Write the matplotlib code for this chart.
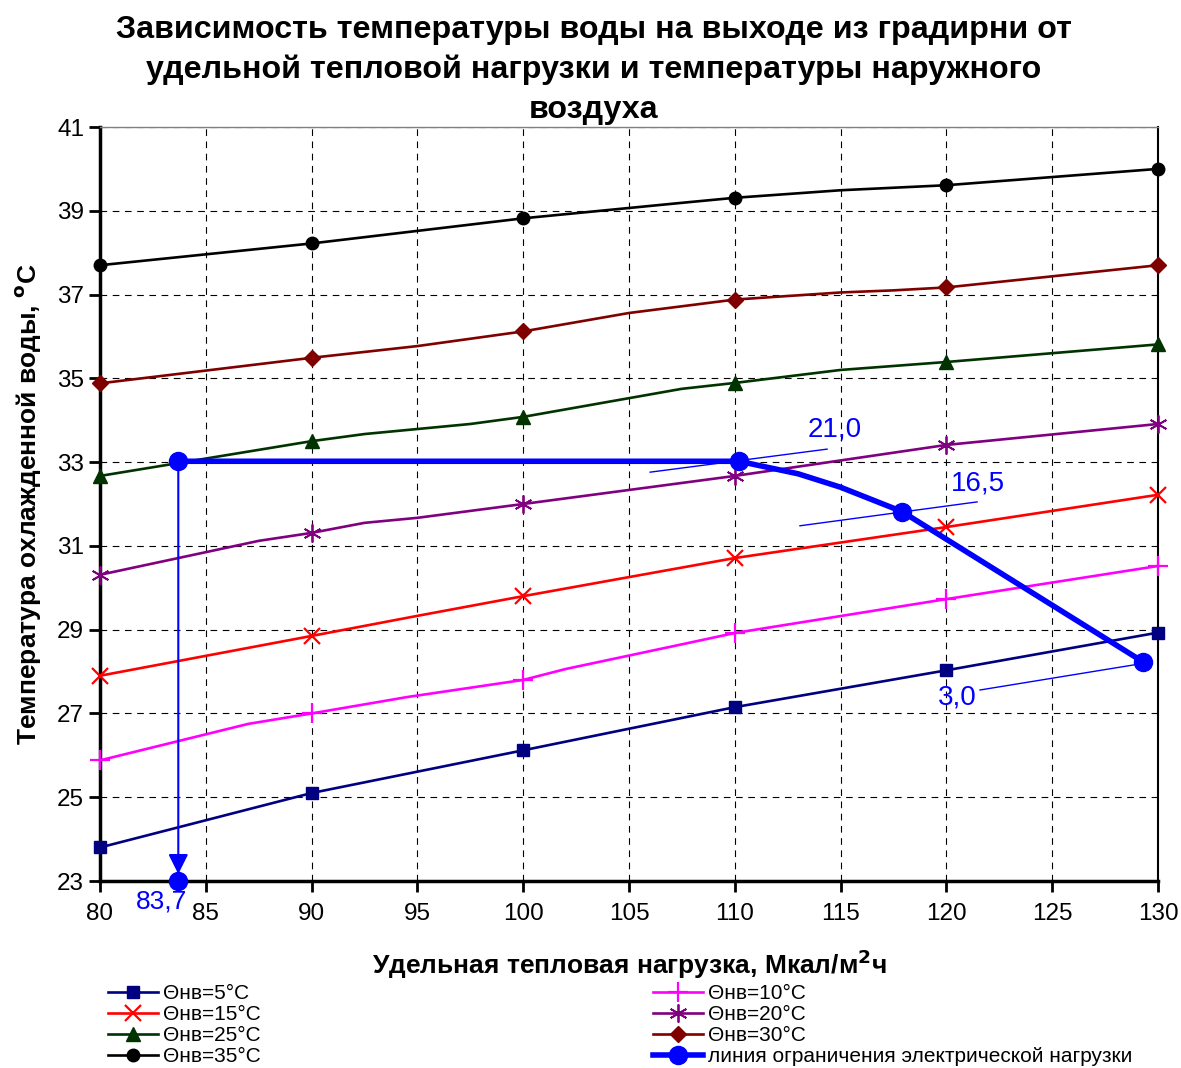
import matplotlib
matplotlib.use("Agg")
import matplotlib.pyplot as plt

plt.rcParams['font.family'] = ['Liberation Sans', 'DejaVu Sans']

# ---- data ----
x5 = [80, 90, 100, 110, 120, 130]
y5 = [23.8, 25.1, 26.12, 27.15, 28.03, 28.93]
m5 = [80, 90, 100, 110, 120, 130]

x10 = [80, 87, 90, 94.5, 100, 102, 107.5, 110, 120, 130]
y10 = [25.88, 26.75, 27.0, 27.39, 27.8, 28.06, 28.65, 28.92, 29.73, 30.52]

x15 = [80, 90, 95, 100, 110, 120, 130]
y15 = [27.9, 28.85, 29.33, 29.8, 30.71, 31.45, 32.22]

x20 = [80, 87.5, 90, 92.5, 95, 100, 110, 120, 130]
y20 = [30.31, 31.12, 31.31, 31.55, 31.67, 32.0, 32.67, 33.41, 33.91]

x25 = [80, 90, 92.5, 97.5, 100, 107.5, 110, 115, 120, 130]
y25 = [32.67, 33.5, 33.67, 33.91, 34.08, 34.75, 34.89, 35.2, 35.39, 35.81]

x30 = [80, 90, 95, 100, 105, 110, 115, 117.5, 120, 130]
y30 = [34.88, 35.49, 35.77, 36.12, 36.56, 36.88, 37.05, 37.1, 37.17, 37.7]

x35 = [80, 90, 100, 107.5, 110, 115, 120, 130]
y35 = [37.7, 38.22, 38.82, 39.19, 39.31, 39.49, 39.61, 40.0]

xlim_line = [83.7, 110.2, 113, 115, 116.5, 117.9, 129.3]
ylim_line = [33.02, 33.02, 32.72, 32.4, 32.1, 31.82, 28.23]
lim_marked = [83.7, 110.2, 117.9, 129.3]

labels = ["Θнв=5°C", "Θнв=10°C", "Θнв=15°C", "Θнв=20°C",
          "Θнв=25°C", "Θнв=30°C", "Θнв=35°C",
          "линия ограничения электрической нагрузки"]

title_lines = ["Зависимость температуры воды на выходе из градирни от",
               "удельной тепловой нагрузки и температуры наружного",
               "воздуха"]

ann_text = ["21,0", "16,5", "3,0"]
ann_pos = [(114.7, 33.77), (121.5, 32.5), (120.5, 27.39)]
ann_lead = [((106.0, 32.76), (114.36, 33.31)),
            ((113.08, 31.48), (121.45, 32.05)),
            ((121.59, 27.56), (129.72, 28.23))]
drop_x = 83.7
drop_label = "83,7"

xticks = list(range(80, 131, 5))
yticks = list(range(23, 42, 2))

# ---- figure ----
W, H = 1181, 1068
fig = plt.figure(figsize=(W/100, H/100), dpi=100)
ax = fig.add_axes([100/W, 1-881/H, 1058/W, 754/H])
ax.set_xlim(80, 130)
ax.set_ylim(23, 41)

def markidx(xs, marked):
    return [i for i, v in enumerate(xs) if v in marked]

lw = 1.9
series = [
    (x5, y5, '#000080', 's', 9, dict()),
    (x10, y10, '#FF00FF', '+', 14, dict(markeredgewidth=1.6)),
    (x15, y15, '#FF0000', 'x', 11, dict(markeredgewidth=1.6)),
    (x20, y20, '#800080', (6, 2, 0), 13, dict(markeredgewidth=1.3)),
    (x25, y25, '#003300', '^', 10, dict()),
    (x30, y30, '#800000', 'D', 8, dict()),
    (x35, y35, '#000000', 'o', 9, dict()),
]
handles = []
for (xs, ys, c, mk, ms, kw), lab in zip(series, labels[:7]):
    h, = ax.plot(xs, ys, color=c, lw=lw, marker=mk, ms=ms,
                 markevery=markidx(xs, m5), label=lab, zorder=3, clip_on=False, **kw)
    handles.append(h)

hb, = ax.plot(xlim_line, ylim_line, color='#0000FF', lw=4, marker='o', ms=13,
              markevery=markidx(xlim_line, lim_marked), label=labels[7], zorder=4,
              clip_on=False)
handles.append(hb)

# drop line with arrow
ax.annotate('', xy=(drop_x, 23.0), xytext=(drop_x, ylim_line[0]),
            arrowprops=dict(arrowstyle='-|>', color='#0000FF', lw=1.5,
                            mutation_scale=30, shrinkA=0, shrinkB=5), zorder=4)
ax.plot([drop_x], [23.0], 'o', color='#0000FF', ms=13, clip_on=False, zorder=5)
ax.text(drop_x - 0.8, 22.5, drop_label, color='#0000FF', fontsize=19,
        ha='center', va='center', clip_on=False)

for t, p, (a, b) in zip(ann_text, ann_pos, ann_lead):
    ax.plot([a[0], b[0]], [a[1], b[1]], color='#0000FF', lw=1.0, zorder=4)
    ax.text(p[0], p[1], t, color='#0000FF', fontsize=20, ha='center', va='center',
            zorder=5)

ax.set_xticks(xticks)
ax.set_yticks(yticks)
ax.tick_params(axis='both', direction='out', length=8, width=2, labelsize=17.5,
               colors='black')
ax.tick_params(axis='x', pad=8)
ax.grid(True, color='black', linestyle=(0, (6, 5)), lw=0.8)
ax.set_axisbelow(True)
ax.spines['left'].set_linewidth(2.5)
ax.spines['bottom'].set_linewidth(2.5)
ax.spines['right'].set_linewidth(1.5)
ax.spines['top'].set_linewidth(1.0)
ax.spines['top'].set_color('#808080')

ax.set_xlabel("Удельная тепловая нагрузка, Мкал/м$^{\\mathbf{2}}$ч", fontsize=19,
              fontweight='bold', labelpad=16)
ax.set_ylabel("Температура охлажденной воды, $^{\\mathbf{o}}$C", fontsize=19,
              fontweight='bold', labelpad=10)

for i, line in enumerate(title_lines):
    fig.text(594/W, 1-(30 + 40*i)/H, line, fontsize=23.2, fontweight='bold',
             ha='center', va='center')

leg_kw = dict(loc='upper left', frameon=False, fontsize=15, handlelength=2.4,
              handletextpad=0.25, labelspacing=0.1, borderaxespad=0, borderpad=0)
left_idx = [0, 2, 4, 6]
right_idx = [1, 3, 5, 7]
leg1 = fig.legend([handles[i] for i in left_idx], [labels[i] for i in left_idx],
                  bbox_to_anchor=(108/W, 1-984/H), **leg_kw)
leg2 = fig.legend([handles[i] for i in right_idx], [labels[i] for i in right_idx],
                  bbox_to_anchor=(653/W, 1-984/H), **leg_kw)

fig.savefig("out.png", dpi=100)
